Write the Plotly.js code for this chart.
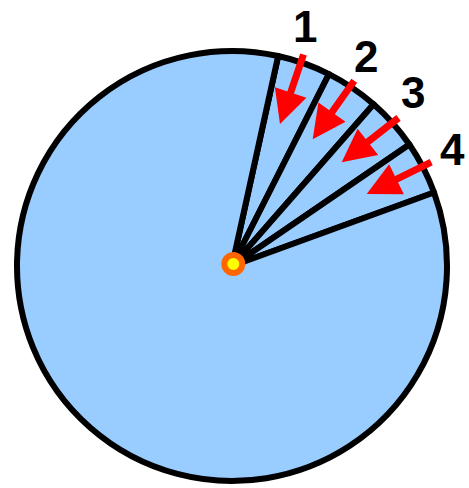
<!DOCTYPE html>
<html>
<head>
<meta charset="utf-8">
<script src="https://cdn.plot.ly/plotly-3.0.1.min.js"></script>
<style>html,body{margin:0;padding:0;background:#fff;}#chart{width:469px;height:488px;}</style>
</head>
<body>
<div id="chart"></div>
<script>
// Data
const sliceLabels = ["1", "2", "3", "4", "rest"];
const sliceValues = [4, 4, 4, 4, 84];
const arrowLabels = ["1", "2", "3", "4"];
// arrow tips / label positions (pixels) — decorative annotation layout
const arrowTipX = [280, 312.7, 341.7, 366.7];
const arrowTipY = [124, 139.3, 162.3, 194];
const arrowTailDX = [24, 42.6, 58.3, 66];
const arrowTailDY = [-71, -60, -45.6, -32.7];
const labelX = [305, 366, 412.5, 452.5];
const labelY = [27, 56, 93, 150];

const W = 469, H = 488;
const cx = 232, cy = 266, R = 215;
const px = x => x / W;
const py = y => 1 - y / H;

const trace = {
  type: "pie",
  labels: sliceLabels,
  values: sliceValues,
  sort: false,
  direction: "clockwise",
  rotation: 12.4,
  textinfo: "none",
  hoverinfo: "none",
  showlegend: false,
  marker: {colors: sliceLabels.map(() => "#99ccff"), line: {color: "#000000", width: 6}},
  domain: {x: [px(cx - R), px(cx + R)], y: [py(cy + R), py(cy - R)]}
};

const annotations = [];
arrowLabels.forEach((t, i) => {
  annotations.push({
    xref: "paper", yref: "paper",
    x: px(arrowTipX[i]), y: py(arrowTipY[i]),
    ax: arrowTailDX[i], ay: arrowTailDY[i],
    text: "", showarrow: true,
    arrowhead: 2, arrowsize: 0.95, arrowwidth: 7, arrowcolor: "#ff0000",
    standoff: 0, startstandoff: 0
  });
  annotations.push({
    xref: "paper", yref: "paper",
    x: px(labelX[i]), y: py(labelY[i]),
    text: "<b>" + t + "</b>", showarrow: false,
    xanchor: "center", yanchor: "middle",
    font: {family: "Liberation Sans, Arial, sans-serif", size: 44, color: "#000000"}
  });
});

const dotX = 233.3, dotY = 264;
const shapes = [
  {type: "circle", xref: "paper", yref: "paper",
   x0: px(dotX - 9), x1: px(dotX + 9), y0: py(dotY + 9), y1: py(dotY - 9),
   fillcolor: "#ffff00", line: {color: "#ff6600", width: 6}}
];

const layout = {
  width: W, height: H,
  margin: {l: 0, r: 0, t: 0, b: 0},
  paper_bgcolor: "#ffffff",
  showlegend: false,
  annotations: annotations,
  shapes: shapes
};

Plotly.newPlot("chart", [trace], layout, {displayModeBar: false, staticPlot: true});
</script>
</body>
</html>
